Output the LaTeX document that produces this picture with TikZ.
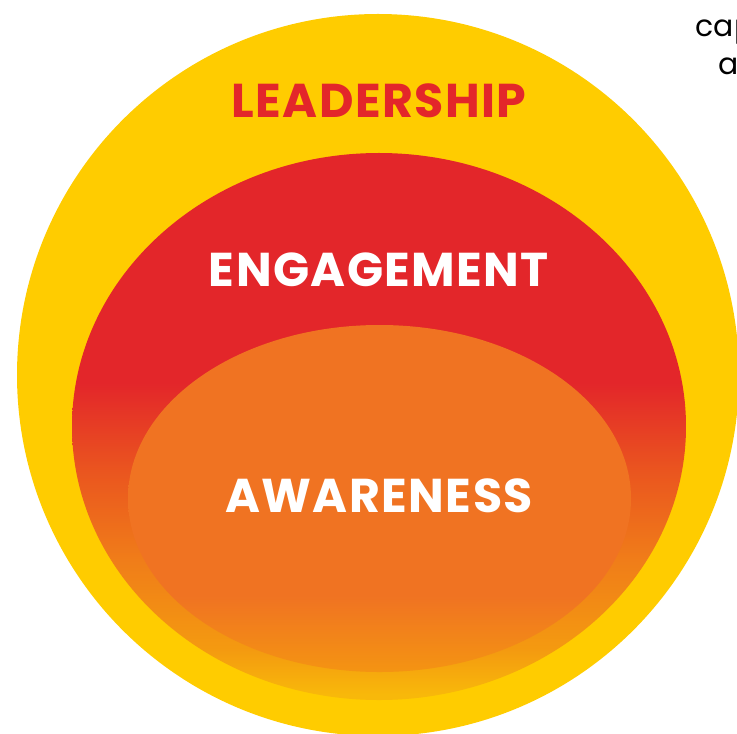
\documentclass[tikz,border=0pt]{standalone}
\usepackage{fontspec}
\setmainfont{Poppins}
\newfontfamily\headfont{Poppins}[LetterSpace=3]
\definecolor{gold}{HTML}{FFCC00}
\definecolor{lred}{HTML}{E3262A}
\definecolor{lorange}{HTML}{F07322}
\definecolor{shY}{HTML}{F8B80A}
\definecolor{shOb}{HTML}{F49A10}
\definecolor{shOa}{HTML}{F07D19}
\definecolor{shR}{HTML}{EA551F}
\definecolor{awB}{HTML}{F49412}
\pgfdeclareverticalshading{engshade}{100bp}{color(0bp)=(shY); color(25.5bp)=(shY); color(29.6bp)=(shOb); color(37.8bp)=(shOa); color(46bp)=(shR); color(54bp)=(lred); color(100bp)=(lred)}
\pgfdeclareverticalshading{awareshade}{100bp}{color(0bp)=(awB); color(25bp)=(awB); color(36bp)=(lorange); color(100bp)=(lorange)}
\begin{document}
\begin{tikzpicture}[
    every node/.style={inner sep=0pt},
    title/.style={font=\headfont\fontsize{13.5}{16}\selectfont\bfseries},
    side/.style={font=\fontsize{8.5}{10}\selectfont, text=black, anchor=base west}]
   \useasboundingbox (0,0) rectangle (7.37,7.33);
   \clip (0,0) rectangle (7.37,7.33);
   % outer ring
   \fill [gold] (3.78,3.58) circle (3.61);
   \shade [shading=engshade] (3.79,3.065) ellipse (3.07 and 2.735);
   \shade [shading=awareshade] (3.795,2.345) ellipse (2.515 and 1.735);
   % labels
   \node [title, text=lred] (lead) at (3.79,6.32) {LEADERSHIP};
   \node [title, text=white] (eng) at (3.79,4.63) {ENGAGEMENT};
   \node [title, text=white] (aware) at (3.79,2.37) {AWARENESS};
   \node [side] (cap) at (6.95,6.96) {cap};
   \node [side] (ar) at (7.18,6.58) {a};
 \end{tikzpicture}
\end{document}
